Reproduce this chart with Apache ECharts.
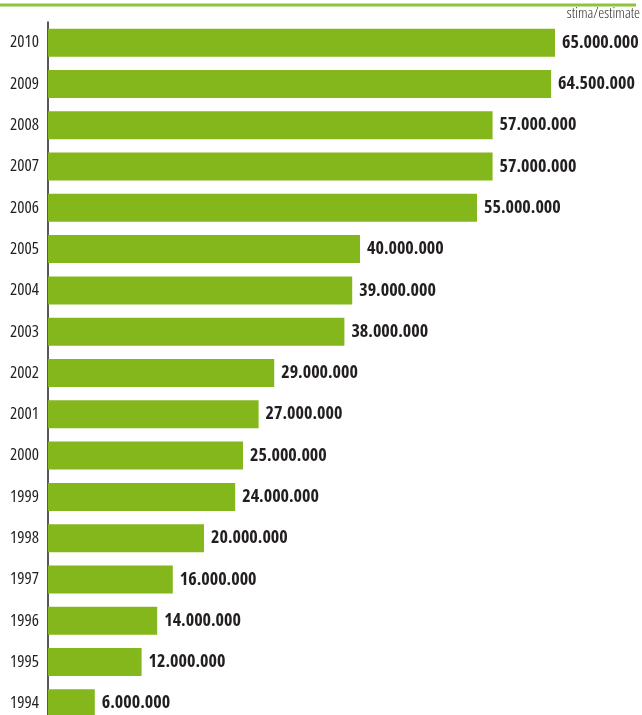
<!DOCTYPE html>
<html>
<head>
<meta charset="utf-8">
<script src="https://cdn.jsdelivr.net/npm/echarts@6/dist/echarts.min.js"></script>
<style>
html,body{margin:0;padding:0;background:#fff;}
#chart{width:642px;height:715px;}
</style>
</head>
<body>
<div id="chart"></div>
<script>
// Data (top to bottom in the picture)
const years = ['2010','2009','2008','2007','2006','2005','2004','2003','2002','2001','2000','1999','1998','1997','1996','1995','1994'];
const visitors = [65000000,64500000,57000000,57000000,55000000,40000000,39000000,38000000,29000000,27000000,25000000,24000000,20000000,16000000,14000000,12000000,6000000];
const noteText = 'stima/estimate';

const FAM = "'Open Sans'";
function fmt(v){ return String(v).replace(/\B(?=(\d{3})+(?!\d))/g, '.'); }

const chart = echarts.init(document.getElementById('chart'));
chart.setOption({
  animation: false,
  backgroundColor: '#ffffff',
  graphic: [
    { type: 'line', shape: { x1: 0, y1: 5, x2: 636, y2: 5 }, style: { stroke: '#8cc43a', lineWidth: 3 } },
    { type: 'text', right: 2, top: 6, style: { text: noteText, font: "condensed 300 15px " + FAM, fill: '#231f20' } }
  ],
  grid: { left: 48, right: 87, top: 22, height: 702, containLabel: false, outerBoundsMode: 'none' },
  xAxis: {
    type: 'value', min: 0, max: 65000000,
    show: false
  },
  yAxis: {
    type: 'category',
    data: years,
    inverse: true,
    axisLine: { show: true, lineStyle: { color: '#231f20', width: 1.5 } },
    axisTick: { show: false },
    axisLabel: { color: '#231f20', fontStyle: 'condensed', fontFamily: FAM, fontSize: 17, fontWeight: 'normal', margin: 9 }
  },
  series: [{
    type: 'bar',
    data: visitors,
    barWidth: 28,
    itemStyle: { color: '#84b71b' },
    label: {
      show: true, position: 'right', distance: 7,
      color: '#231f20', fontStyle: 'condensed', fontFamily: FAM, fontSize: 18, fontWeight: 'bold',
      formatter: p => fmt(p.value)
    }
  }]
});
</script>
</body>
</html>
